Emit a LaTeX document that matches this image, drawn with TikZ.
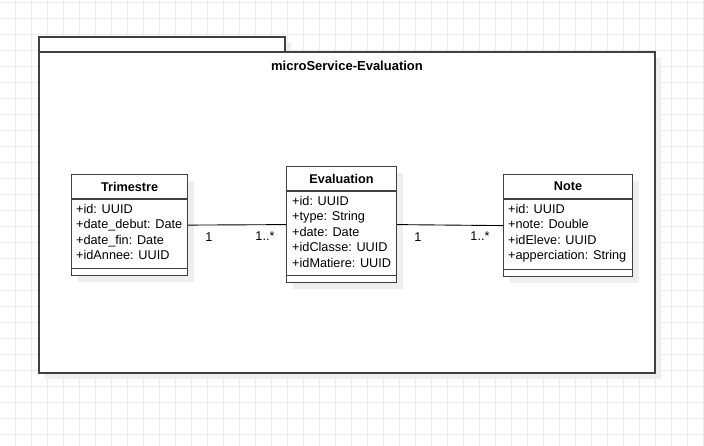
\documentclass[tikz,border=0pt]{standalone}
\usepackage{fontspec}
\setmainfont{Liberation Sans}
\usepackage{tikz}
\usetikzlibrary{calc,shadows}
\definecolor{gridgray}{HTML}{EBEBEB}
\definecolor{shadowgray}{HTML}{EEEEEE}
\definecolor{umlline}{HTML}{404040}

\begin{document}
\begin{tikzpicture}[x=1pt,y=-1pt,
  txt/.style={font=\fontsize{12.7}{15.5}\selectfont,inner sep=0pt},
  classbox/.style={draw=umlline,line width=1.2pt,fill=white,inner sep=0pt,anchor=north west,
    drop shadow={shadow xshift=6pt,shadow yshift=-6pt,fill=shadowgray,opacity=1}},
  divider/.style={draw=umlline,line width=1.2pt},
  attrs/.style={txt,align=left,anchor=north west},
  classname/.style={txt,font=\fontsize{12.7}{14}\selectfont\bfseries},
  assoc/.style={draw=black,line width=0.9pt},
  mult/.style={txt}]
\useasboundingbox (0,0) rectangle (704,446);
\fill[white] (0,0) rectangle (704,446);
% background grid
\begin{scope}[shift={(15,2)}]
\draw[gridgray,line width=0.9pt,step=16pt] (-16,-16) grid (704,460);
\end{scope}
% package
\fill[shadowgray] (45,43) rectangle (291,58);
\fill[shadowgray] (45,58) rectangle (661,379);
\draw[umlline,line width=1.2pt,fill=white] (39,37) rectangle (285,52);
\draw[umlline,line width=1.2pt,fill=white] (39,52) rectangle (655,373);
\node[classname,font=\fontsize{13}{15}\selectfont\bfseries] (pkgname) at (347,66) {microService-Evaluation};

% classes
\node[classbox,minimum width=116pt,minimum height=101pt] (trim) at (71,174) {};
\draw[divider] ($(trim.north west)+(0,25)$) -- ($(trim.north east)+(0,25)$);
\draw[divider] ($(trim.south west)+(0,-8)$) -- ($(trim.south east)+(0,-8)$);
\node[classname] (trimname) at ($(trim.north)+(0,12.5)$) {Trimestre};
\node[attrs] (trimattrs) at ($(trim.north west)+(5,30)$) {+id: UUID\\+date\_debut: Date\\+date\_fin: Date\\+idAnnee: UUID};

\node[classbox,minimum width=110pt,minimum height=116pt] (eval) at (286,166) {};
\draw[divider] ($(eval.north west)+(0,25)$) -- ($(eval.north east)+(0,25)$);
\draw[divider] ($(eval.south west)+(0,-8)$) -- ($(eval.south east)+(0,-8)$);
\node[classname] (evalname) at ($(eval.north)+(0,12.5)$) {Evaluation};
\node[attrs] (evalattrs) at ($(eval.north west)+(6,30)$) {+id: UUID\\+type: String\\+date: Date\\+idClasse: UUID\\+idMatiere: UUID};

\node[classbox,minimum width=129pt,minimum height=102pt] (note) at (503,174) {};
\draw[divider] ($(note.north west)+(0,25)$) -- ($(note.north east)+(0,25)$);
\draw[divider] ($(note.south west)+(0,-8)$) -- ($(note.south east)+(0,-8)$);
\node[classname] (notename) at ($(note.north)+(0,12.5)$) {Note};
\node[attrs] (noteattrs) at ($(note.north west)+(5,30)$) {+id: UUID\\+note: Double\\+idEleve: UUID\\+apperciation: String};

% associations
\draw[assoc] (trim.east) -- (eval.west);
\draw[assoc] (eval.east) -- (note.west);
\node[mult] (m1) at (209,237) {1};
\node[mult] (m2) at (265,236) {1..*};
\node[mult] (m3) at (418,237) {1};
\node[mult] (m4) at (480,236) {1..*};
\end{tikzpicture}
\end{document}
